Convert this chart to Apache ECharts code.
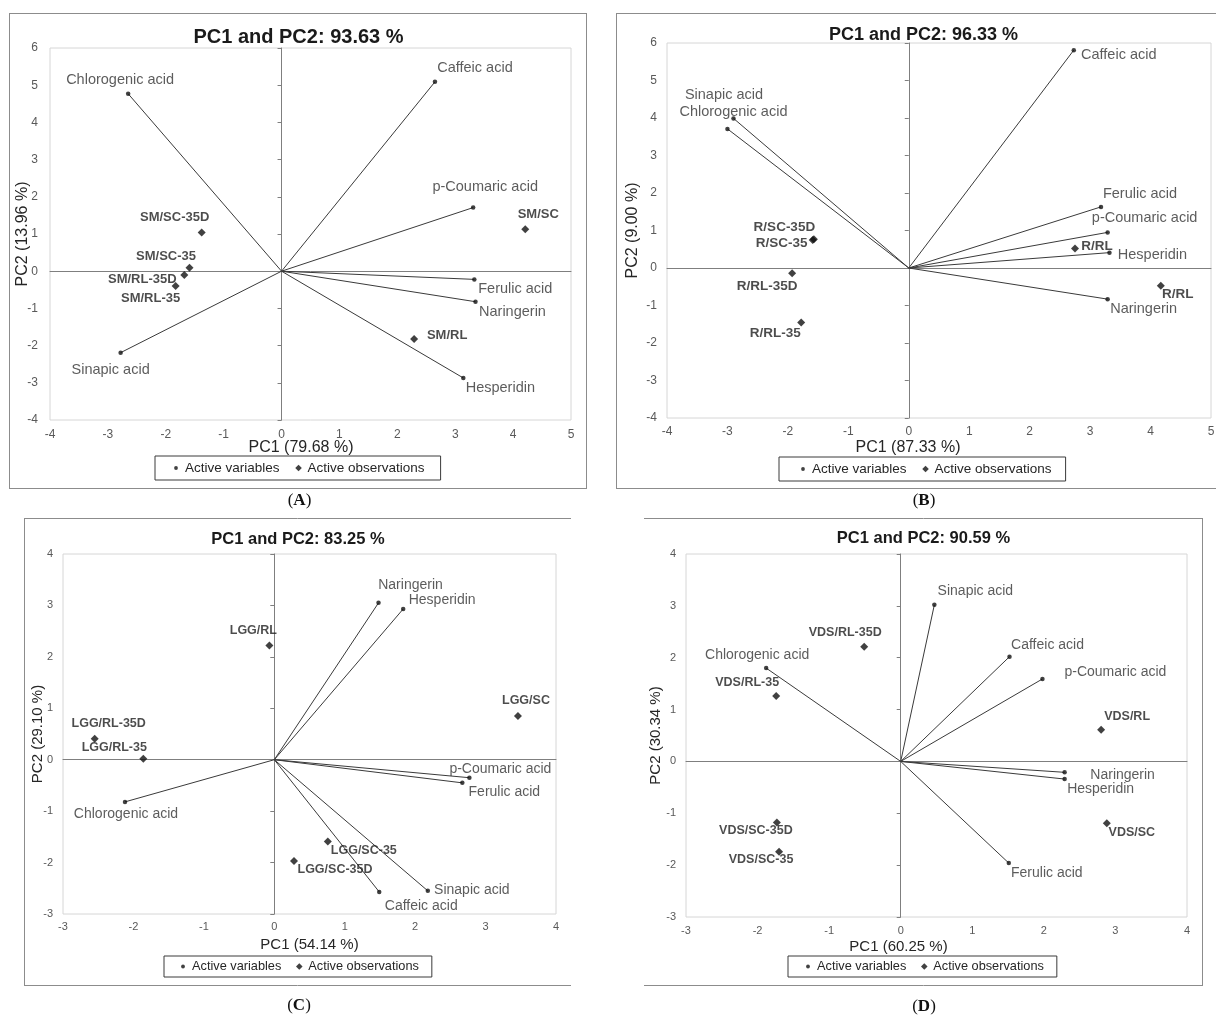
<!DOCTYPE html>
<html>
<head>
<meta charset="utf-8">
<script src="https://cdn.jsdelivr.net/npm/echarts@6/dist/echarts.min.js"></script>
<style>html,body{margin:0;padding:0;background:#fff}#c{width:1216px;height:1021px}</style>
</head>
<body>
<div id="c"></div>
<script>
// ---------------- DATA ----------------
// Panel A
const A_title = 'PC1 and PC2: 93.63 %';
const A_xName = 'PC1 (79.68 %)';
const A_yName = 'PC2 (13.96 %)';
const A_xTicks = [-4, -3, -2, -1, 0, 1, 2, 3, 4, 5];
const A_yTicks = [-4, -3, -2, -1, 0, 1, 2, 3, 4, 5, 6];
const A_varNames = ['Chlorogenic acid', 'Caffeic acid', 'p-Coumaric acid', 'Ferulic acid', 'Naringerin', 'Hesperidin', 'Sinapic acid'];
const A_varPC1 = [-2.65, 2.65, 3.31, 3.33, 3.35, 3.14, -2.78];
const A_varPC2 = [4.77, 5.09, 1.71, -0.22, -0.82, -2.87, -2.19];
const A_obsNames = ['SM/SC-35D', 'SM/SC-35', 'SM/RL-35D', 'SM/RL-35', 'SM/SC', 'SM/RL'];
const A_obsPC1 = [-1.38, -1.59, -1.68, -1.83, 4.21, 2.29];
const A_obsPC2 = [1.04, 0.09, -0.10, -0.40, 1.13, -1.82];

// Panel B
const B_title = 'PC1 and PC2: 96.33 %';
const B_xName = 'PC1 (87.33 %)';
const B_yName = 'PC2 (9.00 %)';
const B_xTicks = [-4, -3, -2, -1, 0, 1, 2, 3, 4, 5];
const B_yTicks = [-4, -3, -2, -1, 0, 1, 2, 3, 4, 5, 6];
const B_varNames = ['Sinapic acid', 'Chlorogenic acid', 'Caffeic acid', 'Ferulic acid', 'p-Coumaric acid', 'Hesperidin', 'Naringerin'];
const B_varPC1 = [-2.90, -3.00, 2.73, 3.18, 3.29, 3.32, 3.29];
const B_varPC2 = [3.99, 3.71, 5.81, 1.63, 0.95, 0.41, -0.83];
const B_obsNames = ['R/SC-35D', 'R/SC-35', 'R/RL-35D', 'R/RL-35', 'R/RL', 'R/RL'];
const B_obsPC1 = [-1.57, -1.59, -1.93, -1.78, 2.75, 4.17];
const B_obsPC2 = [0.77, 0.75, -0.14, -1.45, 0.52, -0.47];

// Panel C
const C_title = 'PC1 and PC2: 83.25 %';
const C_xName = 'PC1 (54.14 %)';
const C_yName = 'PC2 (29.10 %)';
const C_xTicks = [-3, -2, -1, 0, 1, 2, 3, 4];
const C_yTicks = [-3, -2, -1, 0, 1, 2, 3, 4];
const C_varNames = ['Naringerin', 'Hesperidin', 'p-Coumaric acid', 'Ferulic acid', 'Sinapic acid', 'Caffeic acid', 'Chlorogenic acid'];
const C_varPC1 = [1.48, 1.83, 2.77, 2.67, 2.18, 1.49, -2.12];
const C_varPC2 = [3.05, 2.93, -0.35, -0.45, -2.55, -2.57, -0.82];
const C_obsNames = ['LGG/RL', 'LGG/SC', 'LGG/RL-35D', 'LGG/RL-35', 'LGG/SC-35', 'LGG/SC-35D'];
const C_obsPC1 = [-0.07, 3.46, -2.55, -1.86, 0.76, 0.28];
const C_obsPC2 = [2.22, 0.85, 0.41, 0.02, -1.59, -1.97];

// Panel D
const D_title = 'PC1 and PC2: 90.59 %';
const D_xName = 'PC1 (60.25 %)';
const D_yName = 'PC2 (30.34 %)';
const D_xTicks = [-3, -2, -1, 0, 1, 2, 3, 4];
const D_yTicks = [-3, -2, -1, 0, 1, 2, 3, 4];
const D_varNames = ['Sinapic acid', 'Caffeic acid', 'p-Coumaric acid', 'Chlorogenic acid', 'Naringerin', 'Hesperidin', 'Ferulic acid'];
const D_varPC1 = [0.47, 1.52, 1.98, -1.88, 2.29, 2.29, 1.51];
const D_varPC2 = [3.02, 2.02, 1.59, 1.80, -0.21, -0.34, -1.96];
const D_obsNames = ['VDS/RL-35D', 'VDS/RL-35', 'VDS/RL', 'VDS/SC-35D', 'VDS/SC-35', 'VDS/SC'];
const D_obsPC1 = [-0.51, -1.74, 2.80, -1.73, -1.70, 2.88];
const D_obsPC2 = [2.21, 1.26, 0.61, -1.18, -1.74, -1.19];

const captions = ['A', 'B', 'C', 'D'];
const legendNames = ['Active variables', 'Active observations'];

// ---------------- LAYOUT (positions / sizes / styles) ----------------
const FF = '"Liberation Sans", Arial, Helvetica, sans-serif';
// legend icons padded inside an 8x8 box (bullet small, diamond larger)
const DOT_ICON = 'path://M0,0 M8,8 M4,2.1 A1.9,1.9 0 1 1 4,5.9 A1.9,1.9 0 1 1 4,2.1 Z';
const DIAMOND_ICON = 'path://M0,0 M8,8 M4,0.7 L7.3,4 L4,7.3 L0.7,4 Z';
const layouts = [
  { grid: [50, 48, 521, 372], title: [298.5, 37], titleSize: 20, nameSize: 16, xNameGap: 20, xNamePad: 19, yNameGap: 19,
    tickSize: 12, xMargin: 9, yMargin: 12, varSize: 14.5, obsSize: 13,
    legend: { left: 155, top: 456, padding: [5, 16, 5, 17], gap: 15, font: 13.5 },
    varOff: [[-8, -14], [40, -14], [12, -21], [41, 10], [37, 10], [37, 10], [-10, 17]],
    obsOff: [[-27, -15], [-23.5, -11], [-42, 5], [-25, 12], [13, -15], [33, -3]],
    caption: [299.5, 501] },
  { grid: [667, 43, 544, 375], title: [923.5, 35], titleSize: 18, nameSize: 16, xNameGap: 22, xNamePad: 62, yNameGap: 26,
    tickSize: 12, xMargin: 8, yMargin: 10, varSize: 14.5, obsSize: 13.5,
    legend: { left: 779, top: 457, padding: [5, 14, 5, 20], gap: 15, font: 13.5 },
    varOff: [[-9.5, -23], [6, -17], [45, 5], [39, -13], [37, -14], [43, 2], [36, 10]],
    obsOff: [[-29.5, -12], [-31, 3], [-25, 13], [-26, 11], [22, -2], [17, 9]],
    caption: [924, 501] },
  { grid: [63, 554, 493, 360], title: [298, 539], titleSize: 16.5, nameSize: 15, xNameGap: 23, xNamePad: 0, yNameGap: 18,
    tickSize: 11, xMargin: 7, yMargin: 10, varSize: 14, obsSize: 12.5,
    legend: { left: 164, top: 956, padding: [4, 13, 4, 15], gap: 14, font: 12.75 },
    varOff: [[32, -18], [39, -9], [31, -9], [42, 9], [44, -1], [42, 14], [1, 12]],
    obsOff: [[-16, -15], [8, -15], [14, -15], [-29, -11], [36, 9], [41, 9]],
    caption: [299, 1006] },
  { grid: [686, 554, 501, 363], title: [923.5, 538], titleSize: 16.5, nameSize: 15, xNameGap: 22, xNamePad: 76, yNameGap: 23,
    tickSize: 11, xMargin: 8, yMargin: 10, varSize: 14, obsSize: 12.5,
    legend: { left: 788, top: 956, padding: [4, 13, 4, 16], gap: 14, font: 12.75 },
    varOff: [[41, -14], [38, -12], [73, -7], [-9, -13], [58, 3], [36, 10], [38, 10]],
    obsOff: [[-19, -14], [-29, -14], [26, -13], [-21, 8], [-18, 8], [25, 9]],
    caption: [924, 1007] }
];

const panels = [
  { title: A_title, xName: A_xName, yName: A_yName, xTicks: A_xTicks, yTicks: A_yTicks, varNames: A_varNames, varPC1: A_varPC1, varPC2: A_varPC2, obsNames: A_obsNames, obsPC1: A_obsPC1, obsPC2: A_obsPC2 },
  { title: B_title, xName: B_xName, yName: B_yName, xTicks: B_xTicks, yTicks: B_yTicks, varNames: B_varNames, varPC1: B_varPC1, varPC2: B_varPC2, obsNames: B_obsNames, obsPC1: B_obsPC1, obsPC2: B_obsPC2 },
  { title: C_title, xName: C_xName, yName: C_yName, xTicks: C_xTicks, yTicks: C_yTicks, varNames: C_varNames, varPC1: C_varPC1, varPC2: C_varPC2, obsNames: C_obsNames, obsPC1: C_obsPC1, obsPC2: C_obsPC2 },
  { title: D_title, xName: D_xName, yName: D_yName, xTicks: D_xTicks, yTicks: D_yTicks, varNames: D_varNames, varPC1: D_varPC1, varPC2: D_varPC2, obsNames: D_obsNames, obsPC1: D_obsPC1, obsPC2: D_obsPC2 }
];

// ---------------- OPTION ----------------
const option = { animation: false, backgroundColor: '#fff', title: [], grid: [], xAxis: [], yAxis: [], legend: [], series: [], graphic: [] };

panels.forEach((p, i) => {
  const L = layouts[i];
  const xmin = p.xTicks[0], xmax = p.xTicks[p.xTicks.length - 1];
  const ymin = p.yTicks[0], ymax = p.yTicks[p.yTicks.length - 1];

  option.grid.push({ left: L.grid[0], top: L.grid[1], width: L.grid[2], height: L.grid[3],
    show: true, borderColor: '#d6d6d6', borderWidth: 1, backgroundColor: 'transparent',
    containLabel: false, outerBoundsMode: 'none' });

  option.title.push({ text: p.title, left: L.title[0], top: L.title[1] - L.titleSize / 2, textAlign: 'center', padding: 0,
    textStyle: { fontFamily: FF, fontSize: L.titleSize, fontWeight: 'bold', color: '#1a1a1a' } });

  // label axes (bottom / left edges)
  option.xAxis.push({ type: 'value', gridIndex: i, min: xmin, max: xmax, interval: 1, position: 'bottom',
    axisLine: { show: false, onZero: false }, axisTick: { show: false }, splitLine: { show: false },
    axisLabel: { show: true, fontFamily: FF, fontSize: L.tickSize, color: '#595959', margin: L.xMargin, showMinLabel: true, showMaxLabel: true },
    name: p.xName, nameLocation: 'middle', nameGap: L.xNameGap, nameMoveOverlap: false,
    nameTextStyle: { fontFamily: FF, fontSize: L.nameSize, color: '#262626', padding: [0, L.xNamePad, 0, 0], verticalAlign: 'top' } });
  // zero line axis
  option.xAxis.push({ type: 'value', gridIndex: i, min: xmin, max: xmax, interval: 1, position: 'top',
    axisLine: { show: true, onZero: true, lineStyle: { color: '#7f7f7f', width: 1 } },
    axisTick: { show: false }, axisLabel: { show: false }, splitLine: { show: false } });

  option.yAxis.push({ type: 'value', gridIndex: i, min: ymin, max: ymax, interval: 1, position: 'left',
    axisLine: { show: false, onZero: false }, axisTick: { show: false }, splitLine: { show: false },
    axisLabel: { show: true, fontFamily: FF, fontSize: L.tickSize, color: '#595959', margin: L.yMargin, showMinLabel: true, showMaxLabel: true },
    name: p.yName, nameLocation: 'middle', nameGap: L.yNameGap, nameMoveOverlap: false,
    nameTextStyle: { fontFamily: FF, fontSize: L.nameSize, color: '#262626' } });
  option.yAxis.push({ type: 'value', gridIndex: i, min: ymin, max: ymax, interval: 1, position: 'left',
    axisLine: { show: true, onZero: true, lineStyle: { color: '#7f7f7f', width: 1 } },
    axisTick: { show: true, length: 4, inside: false, lineStyle: { color: '#7f7f7f' } },
    axisLabel: { show: false }, splitLine: { show: false } });

  // loading vectors
  option.series.push({ type: 'lines', name: 'loadings', coordinateSystem: 'cartesian2d', xAxisIndex: 2 * i, yAxisIndex: 2 * i,
    silent: true, z: 2, lineStyle: { color: '#3a3a3a', width: 1, opacity: 1, curveness: 0 },
    data: p.varNames.map((n, k) => ({ coords: [[0, 0], [p.varPC1[k], p.varPC2[k]]] })) });

  option.series.push({ type: 'scatter', name: legendNames[0], xAxisIndex: 2 * i, yAxisIndex: 2 * i, z: 3,
    symbol: 'circle', symbolSize: 4.5, itemStyle: { color: '#111' }, emphasis: { disabled: true }, silent: true,
    label: { show: true, position: 'inside', formatter: '{b}', fontFamily: FF, fontSize: L.varSize, color: '#333',
      align: 'center', verticalAlign: 'middle', textBorderWidth: 0, textBorderColor: 'transparent' },
    data: p.varNames.map((n, k) => ({ name: n, value: [p.varPC1[k], p.varPC2[k]], label: { offset: L.varOff[k] } })) });

  option.series.push({ type: 'scatter', name: legendNames[1], xAxisIndex: 2 * i, yAxisIndex: 2 * i, z: 4,
    symbol: 'diamond', symbolSize: 8, itemStyle: { color: '#111' }, emphasis: { disabled: true }, silent: true,
    label: { show: true, position: 'inside', formatter: '{b}', fontFamily: FF, fontSize: L.obsSize, fontWeight: 'bold', color: '#1f1f1f',
      align: 'center', verticalAlign: 'middle', textBorderWidth: 0, textBorderColor: 'transparent' },
    data: p.obsNames.map((n, k) => ({ name: n, value: [p.obsPC1[k], p.obsPC2[k]], label: { offset: L.obsOff[k] } })) });

  option.legend.push({ left: L.legend.left, top: L.legend.top, orient: 'horizontal', selectedMode: false,
    padding: L.legend.padding, itemGap: L.legend.gap, itemWidth: 8, itemHeight: 8,
    borderColor: '#3a3a3a', borderWidth: 1, backgroundColor: '#fff',
    textStyle: { fontFamily: FF, fontSize: L.legend.font, color: '#262626' },
    data: [{ name: legendNames[0], icon: DOT_ICON }, { name: legendNames[1], icon: DIAMOND_ICON }] });

  option.graphic.push({ type: 'text', silent: true,
    style: { text: '{p|(}{b|' + captions[i] + '}{p|)}', x: L.caption[0], y: L.caption[1], align: 'center', verticalAlign: 'middle',
      textAlign: 'center', textVerticalAlign: 'middle',
      rich: { p: { fontFamily: '"Liberation Serif", "Times New Roman", serif', fontSize: 17, fill: '#111', color: '#111' },
              b: { fontFamily: '"Liberation Serif", "Times New Roman", serif', fontSize: 17, fontWeight: 'bold', fill: '#111', color: '#111' } } } });
});

// panel frames
const frameColor = '#8c8c8c';
function hline(x1, x2, y) { return { type: 'line', silent: true, shape: { x1: x1, y1: y, x2: x2, y2: y }, style: { stroke: frameColor, lineWidth: 1 } }; }
function vline(x, y1, y2) { return { type: 'line', silent: true, shape: { x1: x, y1: y1, x2: x, y2: y2 }, style: { stroke: frameColor, lineWidth: 1 } }; }
option.graphic.push(
  hline(9, 587, 13.5), hline(9, 587, 488.5), vline(9.5, 13, 489), vline(586.5, 13, 489),
  hline(616, 1216, 13.5), hline(616, 1216, 488.5), vline(616.5, 13, 489),
  hline(24, 571, 518.5), hline(24, 571, 985.5), vline(24.5, 518, 986),
  hline(644, 1203, 518.5), hline(644, 1203, 985.5), vline(1202.5, 518, 986)
);

const chart = echarts.init(document.getElementById('c'), null, { renderer: 'canvas' });
chart.setOption(option);
</script>
</body>
</html>
